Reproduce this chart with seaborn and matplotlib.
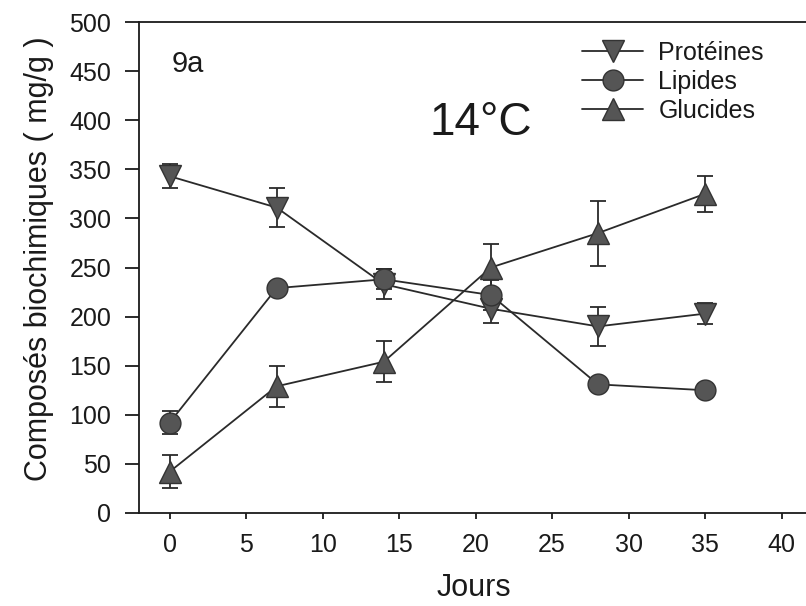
import matplotlib
matplotlib.use("Agg")
import matplotlib.pyplot as plt
import seaborn as sns
import numpy as np

# Data
jours = [0, 7, 14, 21, 28, 35]
proteines = [343, 311, 233, 208, 190, 203]
proteines_err = [12, 20, 15, 15, 20, 11]
lipides = [92, 229, 238, 222, 131, 125]
lipides_err = [12, 5, 10, 15, 5, 6]
glucides = [42, 129, 154, 250, 285, 325]
glucides_err = [17, 21, 21, 24, 33, 18]
series_names = ["Protéines", "Lipides", "Glucides"]
x_ticks = [0, 5, 10, 15, 20, 25, 30, 35, 40]
y_ticks = [0, 50, 100, 150, 200, 250, 300, 350, 400, 450, 500]

sns.set_style("ticks")
plt.rcParams['font.family'] = ['Liberation Sans', 'DejaVu Sans']

W, H = 806, 606
fig = plt.figure(figsize=(W / 100, H / 100), dpi=100)
ax = fig.add_axes([139 / W, (H - 513) / H, (W - 139) / W, (513 - 22) / H])

line_col = "#2a2a2a"
fill_col = "#555555"
edge_col = "#333333"

series = [
    (proteines, proteines_err, "v", 15.5, series_names[0]),
    (lipides, lipides_err, "o", 15, series_names[1]),
    (glucides, glucides_err, "^", 15.5, series_names[2]),
]

for vals, errs, mk, ms, name in series:
    ax.errorbar(jours, vals, yerr=errs, fmt="none", ecolor=line_col,
                elinewidth=1.3, capsize=5.5, capthick=1.3, zorder=2)
    sns.lineplot(x=jours, y=vals, marker=mk, markersize=ms, color=line_col,
                 markerfacecolor=fill_col, markeredgecolor=edge_col,
                 markeredgewidth=1.0, linewidth=1.3, label=name, ax=ax,
                 zorder=3)

ax.set_xlim(-2, 41.6)
ax.set_ylim(0, 500)
ax.set_xticks(x_ticks)
ax.set_yticks(y_ticks)
ax.tick_params(axis="x", direction="out", length=4.5, width=1.3, pad=10,
               labelsize=18, colors="#1a1a1a")
ax.tick_params(axis="y", direction="out", length=10, width=1.3, pad=10,
               labelsize=18, colors="#1a1a1a")
for s in ["left", "bottom", "top"]:
    ax.spines[s].set_linewidth(1.3)
    ax.spines[s].set_color("#1a1a1a")
ax.spines["right"].set_visible(False)

ax.set_xlabel("Jours", fontsize=22, color="#1a1a1a")
ax.set_ylabel("Composés biochimiques ( mg/g )", fontsize=22, color="#1a1a1a")
ax.xaxis.set_label_coords(0.502, -0.122)
ax.yaxis.set_label_coords(-0.128, 0.517)

ax.text(0.1, 449, "9a", fontsize=21, va="baseline", ha="left", color="#1a1a1a")
ax.text(17.0, 385, "14°C", fontsize=33, va="baseline", ha="left", color="#1a1a1a")

leg = ax.legend(loc="upper left", bbox_to_anchor=(582 / W, 1 - 41 / H),
                bbox_transform=fig.transFigure, frameon=False, fontsize=18,
                handlelength=2.45, handletextpad=0.6, labelspacing=0.2,
                borderpad=0, borderaxespad=0)
for t in leg.get_texts():
    t.set_color("#1a1a1a")

fig.savefig("out.png", dpi=100)
